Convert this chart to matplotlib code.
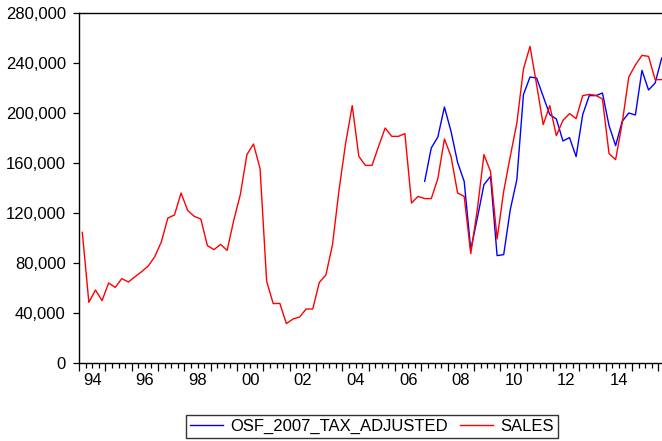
import matplotlib
matplotlib.use("Agg")
import matplotlib.pyplot as plt
import matplotlib.transforms as mtransforms
from matplotlib.ticker import FuncFormatter

plt.rcParams["font.family"] = ["Liberation Sans", "DejaVu Sans"]

# quarterly data, 1994Q1 .. 2016Q1
START_YEAR = 1994
sales = [
    104500, 48500, 58400, 49900,      # 1994
    64000, 60500, 67500, 64800,       # 1995
    69000, 73000, 77500, 85000,       # 1996
    96800, 116000, 118400, 136000,    # 1997
    122100, 117300, 115200, 93900,    # 1998
    90700, 94900, 90100, 114100,      # 1999
    134700, 166700, 175200, 155500,   # 2000
    65300, 47500, 47700, 31500,       # 2001
    35200, 36800, 43200, 43200,       # 2002
    64500, 70400, 94700, 138700,      # 2003
    176000, 205900, 165300, 158100,   # 2004
    158100, 173300, 188000, 181300,   # 2005
    181300, 183500, 128000, 133300,   # 2006
    131500, 131500, 147500, 179200,   # 2007
    165300, 136000, 133300, 87500,    # 2008
    123000, 166700, 153300, 99200,    # 2009
    137300, 165300, 192000, 235200,   # 2010
    253300, 222700, 190700, 205900,   # 2011
    181900, 194100, 199500, 195500,   # 2012
    213900, 214900, 214100, 211200,   # 2013
    167500, 162700, 192000, 228800,   # 2014
    238400, 246100, 245300, 226700,   # 2015
    226700,                           # 2016
]

# OSF_2007_TAX_ADJUSTED starts 2007Q1
osf_start = 52
osf = [
    145300, 172000, 180800, 204800,   # 2007
    185300, 160500, 145300, 90700,    # 2008
    116000, 142700, 149300, 85900,    # 2009
    86700, 122700, 146700, 214700,    # 2010
    228800, 228000, 213300, 198700,   # 2011
    195200, 177600, 180300, 165100,   # 2012
    198700, 213900, 213900, 216000,   # 2013
    189900, 173900, 193300, 200000,   # 2014
    198400, 234100, 218400, 224000,   # 2015
    244000,                           # 2016
]

year_labels = ["94", "96", "98", "00", "02", "04", "06", "08", "10", "12", "14"]

n = len(sales)
x_sales = [i + 0.5 for i in range(n)]
x_osf = [osf_start + i + 0.5 for i in range(len(osf))]

W, H = 662, 441
fig = plt.figure(figsize=(W / 100, H / 100), dpi=100)
fig.patch.set_facecolor("white")

left, right, top, bottom = 79, 665, 13, 363
ax = fig.add_axes([left / W, 1 - bottom / H, (right - left) / W, (bottom - top) / H])

ax.plot(x_osf, osf, color="#0000ff", lw=1.0, label="OSF_2007_TAX_ADJUSTED")
ax.plot(x_sales, sales, color="#ff0000", lw=1.0, label="SALES")

ax.set_xlim(0, 89)
ax.set_ylim(0, 280000)

ax.set_yticks(range(0, 280001, 40000))
ax.yaxis.set_major_formatter(FuncFormatter(lambda v, p: f"{int(v):,}"))
ax.tick_params(axis="y", direction="out", length=4, width=0.9, pad=5.5,
               labelsize=12, colors="black")

ax.set_xticks(range(0, 89, 4))
ax.set_xticks([q for q in range(0, 90) if q % 4], minor=True)
ax.set_xticklabels([])
ax.tick_params(axis="x", which="major", direction="out", length=6, width=0.9)
ax.tick_params(axis="x", which="minor", direction="out", length=3.5, width=0.9)

# year labels centred in the year, every second year
trans = mtransforms.blended_transform_factory(ax.transData, ax.transAxes)
for k, lab in enumerate(year_labels):
    ax.text(k * 8 + 2, -0.05, lab, transform=trans, ha="center", va="center",
            fontsize=12, color="black")

for s in ax.spines.values():
    s.set_linewidth(1.0)
    s.set_color("black")

leg = ax.legend(loc="upper center", bbox_to_anchor=(0.5, -0.148), ncol=2,
                fontsize=12, frameon=True, fancybox=False, shadow=False,
                handlelength=2.0, handletextpad=0.45, columnspacing=0.7,
                borderpad=0.25, borderaxespad=0)
leg.get_frame().set_edgecolor("black")
leg.get_frame().set_linewidth(1.0)

fig.savefig("out.png", dpi=100, facecolor="white")
